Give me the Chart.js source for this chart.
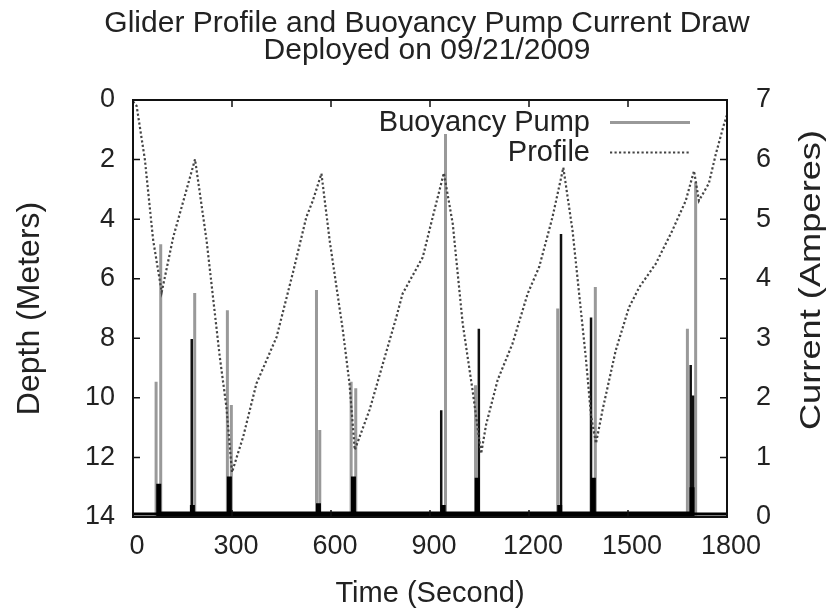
<!DOCTYPE html>
<html><head><meta charset="utf-8">
<script src="https://cdn.jsdelivr.net/npm/chart.js@4.4.1/dist/chart.umd.min.js"></script>
<style>html,body{margin:0;padding:0;background:#fff}</style>
</head><body>
<canvas id="c" width="830" height="611"></canvas>
<script>
// ---- data ----
const titleLines = ['Glider Profile and Buoyancy Pump Current Draw', 'Deployed on 09/21/2009'];
const xTitle = 'Time (Second)';
const yTitle = 'Depth (Meters)';
const y2Title = 'Current (Amperes)';
const seriesNames = ['Buoyancy Pump', 'Profile'];

// Profile (depth in meters vs time in seconds)
const profileTime  = [0, 11, 36, 61, 87, 122, 188, 223, 263, 283, 300, 334, 374, 435, 485, 525, 545, 571, 596, 636, 656, 672, 717, 757, 798, 817, 878, 908, 942, 969, 999, 1029, 1055, 1070, 1105, 1150, 1196, 1231, 1271, 1304, 1332, 1372, 1388, 1403, 1423, 1463, 1503, 1534, 1584, 1634, 1675, 1700, 1715, 1745, 1766, 1791, 1800];
const profileDepth = [0.05, 0.2, 2.0, 4.7, 6.45, 4.6, 1.99, 4.72, 8.63, 10.3, 12.5, 11.3, 9.52, 7.96, 5.78, 3.94, 3.38, 2.47, 4.72, 7.74, 9.52, 11.75, 10.4, 8.86, 7.29, 6.5, 5.28, 3.94, 2.45, 4.16, 7.5, 9.75, 11.87, 10.9, 9.4, 8.18, 6.5, 5.6, 3.94, 2.27, 4.39, 8.63, 10.6, 11.53, 10.4, 8.4, 6.96, 6.29, 5.5, 4.39, 3.38, 2.38, 3.38, 2.8, 1.82, 0.81, 0.5];

// Buoyancy pump current spikes (amperes)
const graySpikeTime  = [70, 84, 187, 286, 298, 556, 566, 661, 675, 947, 1038, 1287, 1401, 1680, 1705];
const graySpikePeak  = [2.27, 4.58, 3.76, 3.47, 1.88, 3.81, 1.46, 2.27, 2.16, 6.43, 2.21, 3.5, 3.86, 3.16, 5.62];
const blackSpikeTime = [178, 934, 1048, 1297, 1388, 1690, 1697];
const blackSpikePeak = [2.99, 1.79, 3.16, 4.75, 3.35, 2.55, 2.04];
const blobTime = [78, 180, 292, 562, 668, 940, 1043, 1293, 1395, 1694];
const blobPeak = [0.56, 0.2, 0.68, 0.23, 0.68, 0.2, 0.66, 0.2, 0.66, 0.5];
const baseTime = [0, 1800];
const baseCurrent = [0.05, 0.05];

const xTicks = [0, 300, 600, 900, 1200, 1500, 1800];
const yTicks = [0, 2, 4, 6, 8, 10, 12, 14];
const y2Ticks = [0, 1, 2, 3, 4, 5, 6, 7];

// ---- build tables ----
const FONT = "'Liberation Sans', Arial, Helvetica, sans-serif";
const TXT = '#222';
function spikes(ts, ps) {
  const b = baseCurrent[0];
  const out = [];
  ts.forEach((t, i) => { out.push({x: t, y: b}, {x: t, y: ps[i]}, {x: t, y: b}); });
  return out;
}
const profileData = profileTime.map((t, i) => ({x: t, y: profileDepth[i]}));
const baseData = baseTime.map((t, i) => ({x: t, y: baseCurrent[i]}));

const framePlugin = {
  id: 'frame',
  afterDatasetsDraw(chart) {
    const {ctx, chartArea: a, scales} = chart;
    ctx.save();
    ctx.strokeStyle = '#111';
    ctx.lineWidth = 1.5;
    const L = 7;
    ctx.beginPath();
    xTicks.forEach(v => {
      const px = scales.x.getPixelForValue(v);
      ctx.moveTo(px, a.bottom); ctx.lineTo(px, a.bottom - L);
      ctx.moveTo(px, a.top); ctx.lineTo(px, a.top + L);
    });
    yTicks.forEach(v => {
      const py = scales.y.getPixelForValue(v);
      ctx.moveTo(a.left, py); ctx.lineTo(a.left + L, py);
    });
    y2Ticks.forEach(v => {
      const py = scales.y2.getPixelForValue(v);
      ctx.moveTo(a.right, py); ctx.lineTo(a.right - L, py);
    });
    ctx.stroke();
    ctx.lineWidth = 2;
    ctx.strokeRect(a.left, a.top, a.right - a.left, a.bottom - a.top);
    ctx.restore();
  },
  afterDraw(chart) {
    const {ctx} = chart;
    ctx.save();
    // title
    ctx.font = '30px ' + FONT;
    ctx.fillStyle = TXT;
    ctx.textAlign = 'center';
    ctx.textBaseline = 'middle';
    ctx.fillText(titleLines[0], 427, 24);
    ctx.fillText(titleLines[1], 427, 51);
    // legend
    ctx.font = '29px ' + FONT;
    ctx.textAlign = 'right';
    ctx.fillText(seriesNames[0], 590, 123);
    ctx.fillText(seriesNames[1], 590, 153);
    ctx.strokeStyle = '#999';
    ctx.lineWidth = 3;
    ctx.beginPath(); ctx.moveTo(610, 122.5); ctx.lineTo(690, 122.5); ctx.stroke();
    ctx.strokeStyle = '#444';
    ctx.lineWidth = 2.2;
    ctx.setLineDash([2.2, 2.3]);
    ctx.beginPath(); ctx.moveTo(610, 152.5); ctx.lineTo(690, 152.5); ctx.stroke();
    ctx.setLineDash([]);
    // right axis title (reads bottom to top)
    ctx.translate(812, 280);
    ctx.rotate(-Math.PI / 2);
    ctx.scale(1.25, 1);
    ctx.textAlign = 'center';
    ctx.font = '29px ' + FONT;
    ctx.fillText(y2Title, 0, 0);
    ctx.restore();
  }
};

new Chart(document.getElementById('c'), {
  type: 'line',
  data: {
    datasets: [
      {label: seriesNames[1], data: profileData, yAxisID: 'y', borderColor: '#444', borderWidth: 2.2, borderDash: [2.2, 2.3], pointRadius: 0, tension: 0, order: 0},
      {label: 'blobs', data: spikes(blobTime, blobPeak), yAxisID: 'y2', borderColor: '#000', borderWidth: 5, pointRadius: 0, order: 1},
      {label: 'black', data: spikes(blackSpikeTime, blackSpikePeak), yAxisID: 'y2', borderColor: '#111', borderWidth: 2.5, pointRadius: 0, order: 2},
      {label: 'base', data: baseData, yAxisID: 'y2', borderColor: '#000', borderWidth: 3, pointRadius: 0, order: 2},
      {label: seriesNames[0], data: spikes(graySpikeTime, graySpikePeak), yAxisID: 'y2', borderColor: '#999', borderWidth: 3, pointRadius: 0, order: 3}
    ]
  },
  options: {
    responsive: false,
    animation: false,
    layout: {padding: {top: 100, left: 0, right: 0, bottom: 0}},
    plugins: {
      legend: {display: false},
      tooltip: {enabled: false},
      title: {display: false}
    },
    scales: {
      x: {
        type: 'linear', position: 'bottom', min: 0, max: 1800,
        afterBuildTicks(s) { s.ticks = xTicks.map(v => ({value: v})); },
        ticks: {color: TXT, font: {family: FONT, size: 27}, padding: 13, labelOffset: 4, maxRotation: 0, autoSkip: false, callback: v => String(v)},
        grid: {display: false, drawTicks: false}, border: {display: false},
        title: {display: true, text: xTitle, color: TXT, font: {family: FONT, size: 29}, padding: {top: 0, bottom: 0}},
        afterFit(s) { s.height = 94; }
      },
      y: {
        position: 'left', reverse: true, min: 0, max: 14,
        afterBuildTicks(s) { s.ticks = yTicks.map(v => ({value: v})); },
        ticks: {color: TXT, font: {family: FONT, size: 27}, padding: 18, callback: v => String(v)},
        grid: {display: false, drawTicks: false}, border: {display: false},
        title: {display: true, text: yTitle, color: TXT, font: {family: FONT, size: 32}, padding: {top: 11, bottom: 0}},
        afterFit(s) { s.width = 133; }
      },
      y2: {
        position: 'right', min: 0, max: 7,
        afterBuildTicks(s) { s.ticks = y2Ticks.map(v => ({value: v})); },
        ticks: {color: TXT, font: {family: FONT, size: 27}, padding: 29, callback: v => String(v)},
        grid: {display: false, drawTicks: false}, border: {display: false},
        afterFit(s) { s.width = 103; }
      }
    }
  },
  plugins: [framePlugin]
});
</script>
</body></html>
